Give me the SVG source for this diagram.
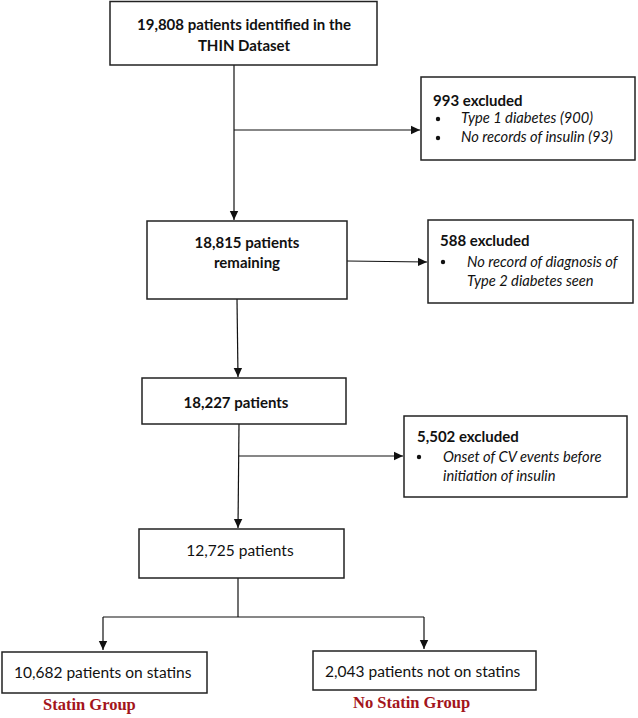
<svg xmlns="http://www.w3.org/2000/svg" width="638" height="718" viewBox="0 0 638 718">
<style>
.box{fill:#fff;stroke:#222;stroke-width:1.5}
.t{font-family:Lato,"Open Sans","Liberation Sans",sans-serif;fill:#111}
.b{font-weight:bold;font-size:15px}
.r{font-size:15.5px}
.i{font-style:italic;font-size:14.7px}
.red{font-family:"Liberation Serif","Times New Roman",serif;font-weight:bold;font-size:16.5px;fill:#a3151b}
.ln{stroke:#111;stroke-width:1.2;fill:none}
</style>
<defs>
<marker id="ah" markerWidth="10" markerHeight="10" refX="9" refY="5" orient="auto" markerUnits="userSpaceOnUse">
<path d="M0,0.8 L9,5 L0,9.2 Z" fill="#111"/>
</marker>
</defs>
<g id="connectors">
<line class="ln" x1="234" y1="65" x2="234" y2="220" marker-end="url(#ah)"/>
<line class="ln" x1="234" y1="130" x2="420" y2="130" marker-end="url(#ah)"/>
<line class="ln" x1="347" y1="261" x2="427" y2="262" marker-end="url(#ah)"/>
<line class="ln" x1="237" y1="299" x2="238" y2="377" marker-end="url(#ah)"/>
<line class="ln" x1="239" y1="424" x2="238" y2="528" marker-end="url(#ah)"/>
<line class="ln" x1="239" y1="456" x2="403" y2="456" marker-end="url(#ah)"/>
<polyline class="ln" points="238,578 238,617"/>
<line class="ln" x1="103" y1="617" x2="424" y2="617"/>
<line class="ln" x1="103" y1="617" x2="103" y2="650" marker-end="url(#ah)"/>
<line class="ln" x1="424" y1="617" x2="424" y2="649" marker-end="url(#ah)"/>
</g>
<g id="n1">
<rect class="box" x="110" y="1.5" width="267" height="63.5"/>
<text class="t b" x="244" y="30" text-anchor="middle">19,808 patients identified in the</text>
<text class="t b" x="244" y="51" text-anchor="middle">THIN Dataset</text>
</g>
<g id="n2">
<rect class="box" x="421" y="77" width="214" height="83"/>
<text class="t b" x="433" y="106">993 excluded</text>
<circle cx="438" cy="119" r="2.2" fill="#111"/>
<text class="t i" x="461" y="123">Type 1 diabetes (900)</text>
<circle cx="438" cy="138" r="2.2" fill="#111"/>
<text class="t i" x="461" y="142">No records of insulin (93)</text>
</g>
<g id="n3">
<rect class="box" x="147" y="221" width="200" height="78"/>
<text class="t b" x="247" y="248" text-anchor="middle">18,815 patients</text>
<text class="t b" x="247" y="268" text-anchor="middle">remaining</text>
</g>
<g id="n4">
<rect class="box" x="428" y="220" width="205" height="83"/>
<text class="t b" x="440" y="246">588 excluded</text>
<circle cx="443" cy="262" r="2.2" fill="#111"/>
<text class="t i" x="467" y="267">No record of diagnosis of</text>
<text class="t i" x="467" y="286">Type 2 diabetes seen</text>
</g>
<g id="n5">
<rect class="box" x="142" y="378" width="204" height="46"/>
<text class="t b" x="236" y="408" text-anchor="middle">18,227 patients</text>
</g>
<g id="n6">
<rect class="box" x="404" y="416" width="223" height="81"/>
<text class="t b" x="417" y="442">5,502 excluded</text>
<circle cx="419" cy="457" r="2.2" fill="#111"/>
<text class="t i" x="443" y="462">Onset of CV events before</text>
<text class="t i" x="443" y="481">initiation of insulin</text>
</g>
<g id="n7">
<rect class="box" x="139" y="529" width="205" height="49"/>
<text class="t r" x="240" y="556" text-anchor="middle">12,725 patients</text>
</g>
<g id="n8">
<rect class="box" x="2" y="652" width="205" height="41"/>
<text class="t r" x="14" y="678">10,682 patients on statins</text>
<text class="red" x="43" y="710">Statin Group</text>
</g>
<g id="n9">
<rect class="box" x="313" y="651" width="223" height="39"/>
<text class="t r" x="325" y="677">2,043 patients not on statins</text>
<text class="red" x="353" y="708">No Statin Group</text>
</g>
</svg>
